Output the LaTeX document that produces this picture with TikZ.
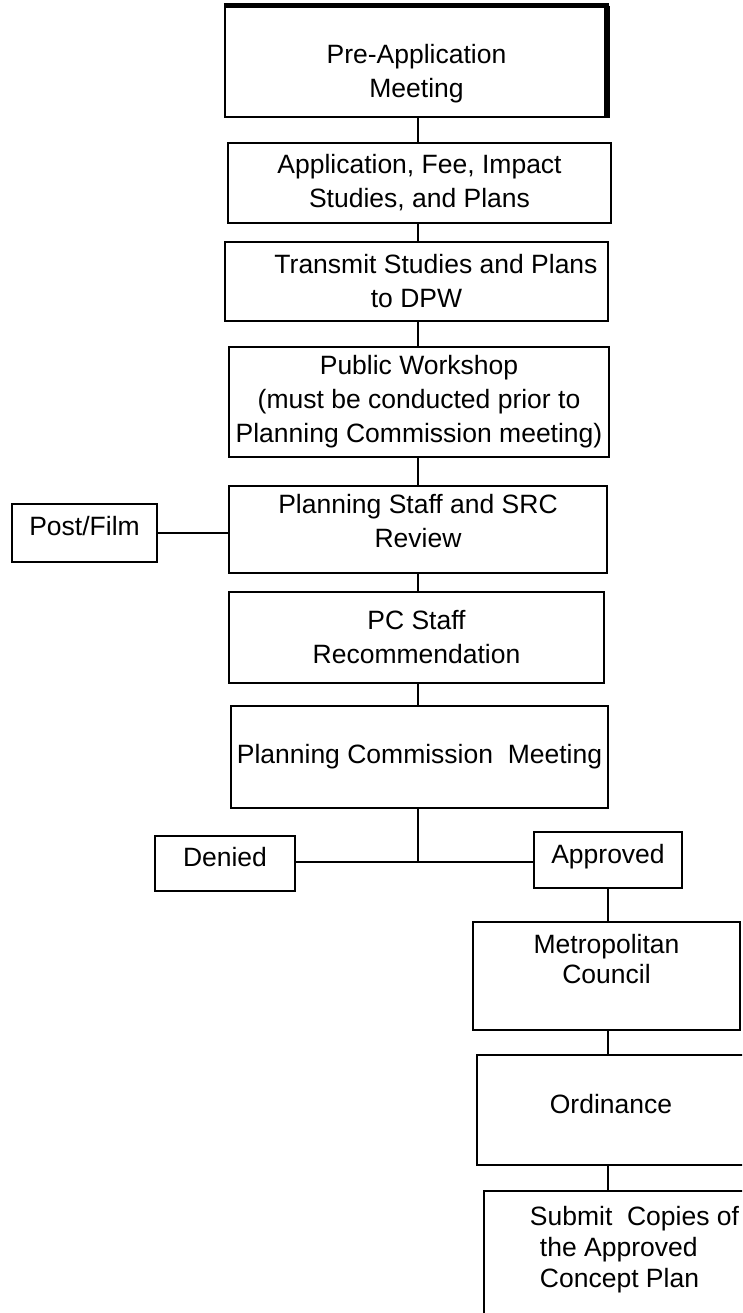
\documentclass[tikz,border=0pt]{standalone}
\usepackage{fontspec}
\setmainfont{Liberation Sans}
\begin{document}
\begin{tikzpicture}[x=1pt,y=-1pt,line width=2.5pt,
  box/.style={draw,rectangle,inner sep=0pt,align=center,font=\fontsize{26.5}{34}\selectfont}]
\path[use as bounding box,fill=white] (0,0) rectangle (742,1313);
\clip (0,0) rectangle (742,1313);
\coordinate (spine) at (418,0);
\coordinate (branch) at (608,0);
\coordinate (fork) at (418,862);

\node[box,minimum width=383,minimum height=110] (pre) at (416.5,62) {\rule{0pt}{42pt}Pre-Application\\Meeting};
\draw[line width=4.5pt] (pre.north west) -- (pre.north east);
\draw[line width=6pt] ([xshift=-2pt]pre.north east) -- ([xshift=-2pt]pre.south east);
\node[box,minimum width=383,minimum height=80] (app) at (419.5,183) {Application, Fee, Impact\\Studies, and Plans};
\node[box,minimum width=383,minimum height=79] (trans) at (416.5,281.5) {\hspace*{39pt}Transmit Studies and Plans\\to DPW};
\node[box,minimum width=380,minimum height=110] (pub) at (419,402) {Public Workshop\\(must be conducted prior to\\Planning Commission meeting)};
\node[box,minimum width=378,minimum height=87] (staff) at (418,529.5) {Planning Staff and SRC\\Review\rule[-17pt]{0pt}{17pt}};
\node[box,minimum width=145,minimum height=58] (post) at (84.5,533) {Post/Film\rule[-15pt]{0pt}{15pt}};
\node[box,minimum width=375,minimum height=91] (pcstaff) at (416.5,637.5) {PC Staff\\Recommendation};
\node[box,minimum width=377,minimum height=102] (pcm) at (419.5,757) {Planning Commission~ Meeting};
\node[box,minimum width=140,minimum height=55] (denied) at (225,863.5) {Denied\rule[-14pt]{0pt}{14pt}};
\node[box,minimum width=148,minimum height=56] (approved) at (608,860) {Approved\rule[-13pt]{0pt}{13pt}};
\node[box,minimum width=267,minimum height=108] (metro) at (606.5,976) {Metropolitan\\[-4pt]Council\rule[-35pt]{0pt}{35pt}};
\node[box,minimum width=268,minimum height=110] (ord) at (611,1110) {Ordinance\rule[-13pt]{0pt}{13pt}};
\node[box,align=left,minimum width=301,minimum height=149] (submit) at (634.5,1265.5) {Submit~ Copies of\\[-3pt]\hspace*{10pt}the Approved\\[-3pt]\hspace*{10pt}Concept Plan\rule[-38pt]{0pt}{38pt}};

\draw (pre.south -| spine) -- (app.north -| spine);
\draw (app.south -| spine) -- (trans.north -| spine);
\draw (trans.south -| spine) -- (pub.north -| spine);
\draw (pub.south -| spine) -- (staff.north -| spine);
\draw (post.east) -- (post.east -| staff.west);
\draw (staff.south -| spine) -- (pcstaff.north -| spine);
\draw (pcstaff.south -| spine) -- (pcm.north -| spine);
\draw (pcm.south -| spine) -- (fork);
\draw (denied.east |- fork) -- (approved.west |- fork);
\draw (approved.south) -- (metro.north -| approved);
\draw (metro.south -| branch) -- (ord.north -| branch);
\draw (ord.south -| branch) -- (submit.north -| branch);
\end{tikzpicture}
\end{document}
